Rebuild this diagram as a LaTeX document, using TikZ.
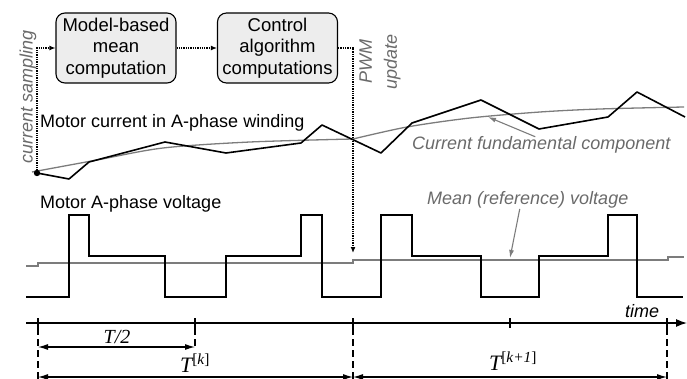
\documentclass[tikz,border=0pt]{standalone}
\usepackage{fontspec}
\setmainfont{Liberation Sans}
\newfontfamily\timesfont{Liberation Serif}
\usepackage{xcolor}
\usetikzlibrary{arrows.meta}
\definecolor{fundgray}{HTML}{7C7C7C}
\definecolor{labelgray}{HTML}{6A6A6A}
\definecolor{boxfill}{HTML}{EDEDED}

\begin{document}
\begin{tikzpicture}[x=1pt,y=-1pt,
  wave/.style={black,line width=1.6pt},
  fund/.style={fundgray,line width=1.3pt},
  calcbox/.style={draw,line width=1.1pt,rounded corners=9pt,fill=boxfill,
    minimum width=120pt,minimum height=70pt,inner sep=1pt,align=center,
    font=\fontsize{18.5}{21.5}\selectfont},
  lbl/.style={inner sep=0pt,font=\fontsize{18}{22}\selectfont},
  glbl/.style={inner sep=0pt,labelgray,font=\fontsize{18}{25}\selectfont\itshape},
  tlbl/.style={inner sep=0pt,font=\timesfont\itshape},
  flow/.style={densely dotted,line width=1.3pt,-{Latex[length=6pt,width=5pt]}},
  pointer/.style={fundgray,line width=1.1pt,-{Latex[length=8pt,width=5pt]}},
  dimarrow/.style={line width=1.1pt,{Latex[length=10pt,width=6pt]}-{Latex[length=10pt,width=6pt]}},
  vguide/.style={line width=1.1pt,dash pattern=on 7pt off 4pt}]
  \useasboundingbox (0,0) rectangle (687,379);

  % computation blocks
  \node[calcbox] (model) at (116,48) {Model-based\\mean\\computation};
  \node[calcbox] (ctrl) at (277.5,48) {Control\\algorithm\\computations};

  \coordinate (samp) at (37,173);
  \coordinate (pwm) at (353,253);
  \draw[flow] (samp) |- (model.west);
  \draw[flow] (model) -- (ctrl);
  \draw[flow] (ctrl.east) -| (pwm);

  \node[glbl,rotate=90] (samplbl) at (28,97) {current sampling};
  \node[glbl,rotate=90,align=center] (pwmlbl) at (380,62) {PWM\\update};

  % motor current
  \node[lbl,anchor=base west] (curlbl) at (40,128) {Motor current in A-phase winding};
  \draw[fund] plot[smooth] coordinates {(32,172) (97,160) (163,148) (250,142) (353,139)};
  \draw[fund] plot[smooth] coordinates {(353,139) (407,127) (470,118) (540,112) (600,109) (684,107)};
  \draw[wave,line join=round] (samp) -- (69,179) -- (89,162) -- (165,142) -- (226,153)
    -- (301,143) -- (322,125) -- (381,153) -- (412,123) -- (481,100) -- (539,129)
    -- (608,117) -- (637,92) -- (685,117);
  \fill (samp) circle (3.2pt);
  \node[glbl,anchor=base west] (fundlbl) at (412,150) {Current fundamental component};
  \coordinate (fundpt) at (488,117);
  \draw[pointer] ([xshift=-6pt]fundlbl.north) -- (fundpt);

  % motor voltage
  \node[lbl,anchor=base west] (voltlbl) at (40,208) {Motor A-phase voltage};
  \draw[fund] (26,266) -| (38,263) -| (353,260) -| (668,257) -- (684,257);
  \draw[wave] (26,297) -| (69,215) -| (89,256) -| (165,297) -| (226,256) -| (301,215)
    -| (322,297) -| (381,215) -| (412,256) -| (481,297) -| (539,256) -| (608,215)
    -| (637,297) -- (683,297);
  \node[glbl,anchor=base west] (meanlbl) at (427,205) {Mean (reference) voltage};
  \coordinate (meanpt) at (510,258);
  \draw[pointer] ([xshift=-8pt]meanlbl.south) -- (meanpt);

  % time axis
  \coordinate (axs) at (26,323);
  \coordinate (axe) at (687,323);
  \draw[line width=1.3pt,-{Latex[length=11pt,width=8pt]}] (axs) -- (axe);
  \node[lbl,anchor=base west,font=\fontsize{18}{22}\selectfont\itshape] (timelbl) at (625,317) {time};
  \foreach \n/\x/\yb in {k0/38/379,kh/195/348,k1/353/379,kq/510/328,k2/667/379} {
    \coordinate (\n) at (\x,323);
    \draw[line width=1.1pt] (\x,318) -- (\x,328);
    \draw[vguide] (\x,328) -- (\x,\yb);
  }
  \draw[dimarrow] (k0 |- 0,347) -- (kh |- 0,347);
  \draw[dimarrow] (k0 |- 0,377) -- (k1 |- 0,377);
  \draw[dimarrow] (k1 |- 0,377) -- (k2 |- 0,377);
  \node[tlbl,anchor=base,font=\timesfont\itshape\fontsize{20}{22}\selectfont] (halflbl) at (117,343) {T/2};
  \node[tlbl,anchor=base,font=\timesfont\itshape\fontsize{22}{24}\selectfont] (perk) at (195,372)
    {T\textsuperscript{\upshape[\itshape k\upshape]}};
  \node[tlbl,anchor=base,font=\timesfont\itshape\fontsize{22}{24}\selectfont] (perkk) at (513,370)
    {T\textsuperscript{\upshape[\itshape k+1\upshape]}};
\end{tikzpicture}
\end{document}
